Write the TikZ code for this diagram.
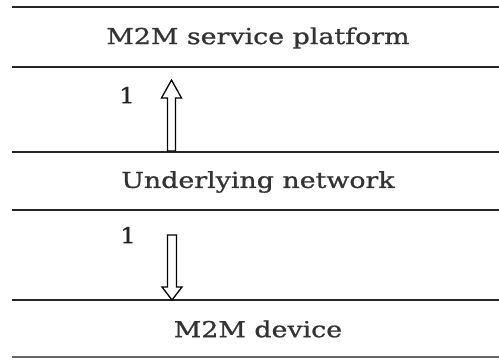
\documentclass[tikz,border=0pt]{standalone}
\usepackage{fontspec}
\setmainfont{DejaVu Serif}[FakeBold=0.8]
\begin{document}
\begin{tikzpicture}[x=1pt, y=-1pt, line width=1.8pt,
  layertext/.style={font=\fontsize{22}{26}\selectfont, text=black!80, xscale=1.22, inner sep=0pt},
  countlabel/.style={font=\fontsize{22}{26}\selectfont, text=black!85, xscale=1.1, inner sep=0pt},
  hollowarrow/.style={draw=black, line width=1.3pt, fill=white, line join=miter}]
  \useasboundingbox (0,0) rectangle (499,360);
  % separators
  \foreach \y in {7,67,152,210,300}
    \draw[black!85] (12,\y) -- (499,\y);
  \draw[black!60, line width=1.4pt] (12,357) -- (499,357);
  % layers
  \node[layertext] (platform) at (258,38) {M2M service platform};
  \node[layertext] (network) at (258,182) {Underlying network};
  \node[layertext] (device) at (258,329) {M2M device};
  % arrows
  \coordinate (upfoot) at (171.5,151);
  \coordinate (uptip) at (171.5,80);
  \draw[hollowarrow] (upfoot) ++(-4,0) -- ++(0,-53) -- ++(-6,0) -- (uptip)
    -- ++(10,18) -- ++(-6,0) -- ++(0,53) -- cycle;
  \coordinate (downtop) at (172,235);
  \coordinate (downtip) at (172,300);
  \draw[hollowarrow] (downtop) ++(-4.5,0) -- ++(0,52) -- ++(-5.5,0) -- (downtip)
    -- ++(10,-13) -- ++(-5.5,0) -- ++(0,-52) -- cycle;
  \node[countlabel] (uplabel) at (127,95) {1};
  \node[countlabel] (downlabel) at (128,235) {1};
\end{tikzpicture}
\end{document}
